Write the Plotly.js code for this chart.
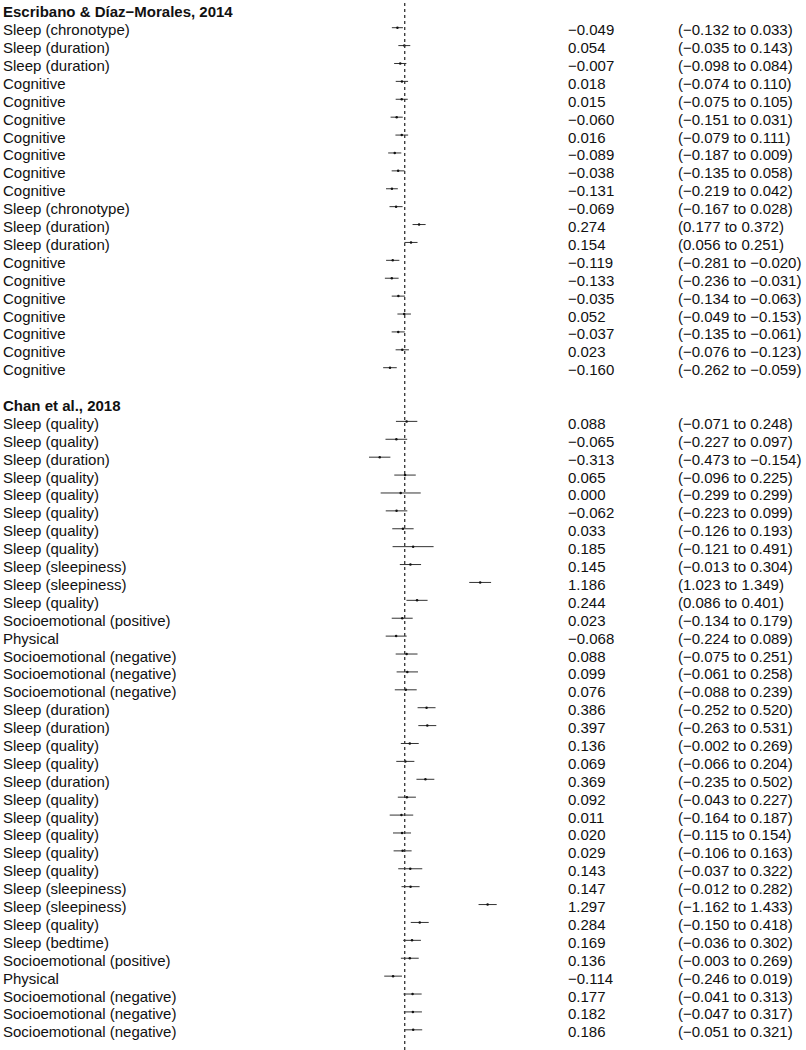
<!DOCTYPE html>
<html>
<head>
<meta charset="utf-8">
<script src="https://cdn.plot.ly/plotly-3.0.1.min.js"></script>
<style>
  html, body { margin: 0; padding: 0; background: #fff; }
  #myPlot { width: 806px; height: 1050px; }
</style>
</head>
<body>
<div id="myPlot"></div>
<script>
// Study headers
const study1 = 'Escribano & Díaz\u2212Morales, 2014';
const study2 = 'Chan et al., 2018';

// Escribano & Díaz-Morales, 2014
const labels1 = [
    'Sleep (chronotype)', 'Sleep (duration)', 'Sleep (duration)', 'Cognitive', 'Cognitive',
    'Cognitive', 'Cognitive', 'Cognitive', 'Cognitive', 'Cognitive',
    'Sleep (chronotype)', 'Sleep (duration)', 'Sleep (duration)', 'Cognitive', 'Cognitive',
    'Cognitive', 'Cognitive', 'Cognitive', 'Cognitive', 'Cognitive'
];
const est1 = [-0.049, 0.054, -0.007, 0.018, 0.015, -0.060, 0.016, -0.089, -0.038, -0.131,
    -0.069, 0.274, 0.154, -0.119, -0.133, -0.035, 0.052, -0.037, 0.023, -0.160];
// interval ends as drawn
const lo1 = [-0.132, -0.035, -0.098, -0.074, -0.075, -0.151, -0.079, -0.187, -0.135, -0.219,
    -0.167, 0.177, 0.056, -0.218, -0.236, -0.134, -0.049, -0.135, -0.076, -0.262];
const hi1 = [0.033, 0.143, 0.084, 0.110, 0.105, 0.031, 0.111, 0.009, 0.058, -0.043,
    0.028, 0.372, 0.251, -0.020, -0.031, 0.063, 0.153, 0.061, 0.123, -0.059];
// interval text as printed
const ci1 = [
    '(\u22120.132 to 0.033)', '(\u22120.035 to 0.143)', '(\u22120.098 to 0.084)', '(\u22120.074 to 0.110)',
    '(\u22120.075 to 0.105)', '(\u22120.151 to 0.031)', '(\u22120.079 to 0.111)', '(\u22120.187 to 0.009)',
    '(\u22120.135 to 0.058)', '(\u22120.219 to 0.042)', '(\u22120.167 to 0.028)', '(0.177 to 0.372)',
    '(0.056 to 0.251)', '(\u22120.281 to \u22120.020)', '(\u22120.236 to \u22120.031)', '(\u22120.134 to \u22120.063)',
    '(\u22120.049 to \u22120.153)', '(\u22120.135 to \u22120.061)', '(\u22120.076 to \u22120.123)', '(\u22120.262 to \u22120.059)'
];

// Chan et al., 2018
const labels2 = [
    'Sleep (quality)', 'Sleep (quality)', 'Sleep (duration)', 'Sleep (quality)', 'Sleep (quality)',
    'Sleep (quality)', 'Sleep (quality)', 'Sleep (quality)', 'Sleep (sleepiness)', 'Sleep (sleepiness)',
    'Sleep (quality)', 'Socioemotional (positive)', 'Physical', 'Socioemotional (negative)', 'Socioemotional (negative)',
    'Socioemotional (negative)', 'Sleep (duration)', 'Sleep (duration)', 'Sleep (quality)', 'Sleep (quality)',
    'Sleep (duration)', 'Sleep (quality)', 'Sleep (quality)', 'Sleep (quality)', 'Sleep (quality)',
    'Sleep (quality)', 'Sleep (sleepiness)', 'Sleep (sleepiness)', 'Sleep (quality)', 'Sleep (bedtime)',
    'Socioemotional (positive)', 'Physical', 'Socioemotional (negative)', 'Socioemotional (negative)', 'Socioemotional (negative)'
];
const est2 = [0.088, -0.065, -0.313, 0.065, 0.000, -0.062, 0.033, 0.185, 0.145, 1.186,
    0.244, 0.023, -0.068, 0.088, 0.099, 0.076, 0.386, 0.397, 0.136, 0.069,
    0.369, 0.092, 0.011, 0.020, 0.029, 0.143, 0.147, 1.297, 0.284, 0.169,
    0.136, -0.114, 0.177, 0.182, 0.186];
const lo2 = [-0.071, -0.227, -0.473, -0.096, -0.299, -0.223, -0.126, -0.121, -0.013, 1.023,
    0.086, -0.134, -0.224, -0.075, -0.061, -0.088, 0.252, 0.263, 0.002, -0.066,
    0.235, -0.043, -0.164, -0.115, -0.106, -0.037, 0.012, 1.162, 0.150, 0.036,
    0.003, -0.246, 0.041, 0.047, 0.051];
const hi2 = [0.248, 0.097, -0.154, 0.225, 0.299, 0.099, 0.193, 0.491, 0.304, 1.349,
    0.401, 0.179, 0.089, 0.251, 0.258, 0.239, 0.520, 0.531, 0.269, 0.204,
    0.502, 0.227, 0.187, 0.154, 0.163, 0.322, 0.282, 1.433, 0.418, 0.302,
    0.269, 0.019, 0.313, 0.317, 0.321];
const ci2 = [
    '(\u22120.071 to 0.248)', '(\u22120.227 to 0.097)', '(\u22120.473 to \u22120.154)', '(\u22120.096 to 0.225)',
    '(\u22120.299 to 0.299)', '(\u22120.223 to 0.099)', '(\u22120.126 to 0.193)', '(\u22120.121 to 0.491)',
    '(\u22120.013 to 0.304)', '(1.023 to 1.349)', '(0.086 to 0.401)', '(\u22120.134 to 0.179)',
    '(\u22120.224 to 0.089)', '(\u22120.075 to 0.251)', '(\u22120.061 to 0.258)', '(\u22120.088 to 0.239)',
    '(\u22120.252 to 0.520)', '(\u22120.263 to 0.531)', '(\u22120.002 to 0.269)', '(\u22120.066 to 0.204)',
    '(\u22120.235 to 0.502)', '(\u22120.043 to 0.227)', '(\u22120.164 to 0.187)', '(\u22120.115 to 0.154)',
    '(\u22120.106 to 0.163)', '(\u22120.037 to 0.322)', '(\u22120.012 to 0.282)', '(\u22121.162 to 1.433)',
    '(\u22120.150 to 0.418)', '(\u22120.036 to 0.302)', '(\u22120.003 to 0.269)', '(\u22120.246 to 0.019)',
    '(\u22120.041 to 0.313)', '(\u22120.047 to 0.317)', '(\u22120.051 to 0.321)'
];

// dashed reference line
const refLine = 0.06;

// row positions: header 0, study 1 rows, blank, header, study 2 rows
const rows1 = labels1.map((_, i) => i + 1);
const header2Row = labels1.length + 2;
const rows2 = labels2.map((_, i) => header2Row + 1 + i);

const allRows = rows1.concat(rows2);
const allEst = est1.concat(est2);
const allLo = lo1.concat(lo2);
const allHi = hi1.concat(hi2);
const allLabels = labels1.concat(labels2);
const allCi = ci1.concat(ci2);

const fmt = v => v.toFixed(3).replace('-', '\u2212');

const data = [{
    x: allEst,
    y: allRows,
    mode: 'markers',
    type: 'scatter',
    marker: {size: 2.5, color: '#111'},
    error_x: {
        type: 'data',
        symmetric: false,
        array: allHi.map((h, i) => h - allEst[i]),
        arrayminus: allLo.map((l, i) => allEst[i] - l),
        width: 0,
        thickness: 1,
        color: '#333'
    },
    hoverinfo: 'skip',
    showlegend: false
}];

const font = {family: '"Liberation Sans", Arial, Helvetica, sans-serif', size: 15, color: '#111'};
const textShift = -2;
const annotations = [];
function addText(txt, xPx, row, bold) {
    annotations.push({
        text: bold ? '<b>' + txt + '</b>' : txt,
        x: xPx / 806, xref: 'paper', xanchor: 'left',
        y: row, yref: 'y', yanchor: 'middle', yshift: textShift,
        showarrow: false, font: font
    });
}
addText(study1, 1, 0, true);
addText(study2, 1, header2Row, true);
allRows.forEach((r, i) => {
    addText(allLabels[i], 1, r, false);
    addText(fmt(allEst[i]), 566, r, false);
    addText(allCi[i], 676, r, false);
});

// pixel mapping: zero at x=400.7, 67 px per unit; rows 17.9 px apart
const pxPerUnit = 67, zeroPx = 400.7;
const rowPx = 17.895, firstRowPx = 9.8;
const yTop = -firstRowPx / rowPx;
const yBottom = yTop + 1050 / rowPx;

const layout = {
    width: 806,
    height: 1050,
    margin: {l: 0, r: 0, t: 0, b: 0, pad: 0},
    xaxis: {
        range: [-zeroPx / pxPerUnit, (806 - zeroPx) / pxPerUnit],
        visible: false,
        showgrid: false,
        zeroline: false
    },
    yaxis: {
        range: [yBottom, yTop],
        visible: false,
        showgrid: false,
        zeroline: false
    },
    shapes: [{
        type: 'line',
        xref: 'x', yref: 'paper',
        x0: refLine, x1: refLine, y0: 0, y1: 1,
        line: {color: '#333', width: 1.3, dash: '3px,3px'}
    }],
    annotations: annotations,
    paper_bgcolor: '#fff',
    plot_bgcolor: '#fff'
};

Plotly.newPlot('myPlot', data, layout, {staticPlot: true, displayModeBar: false});
</script>
</body>
</html>
